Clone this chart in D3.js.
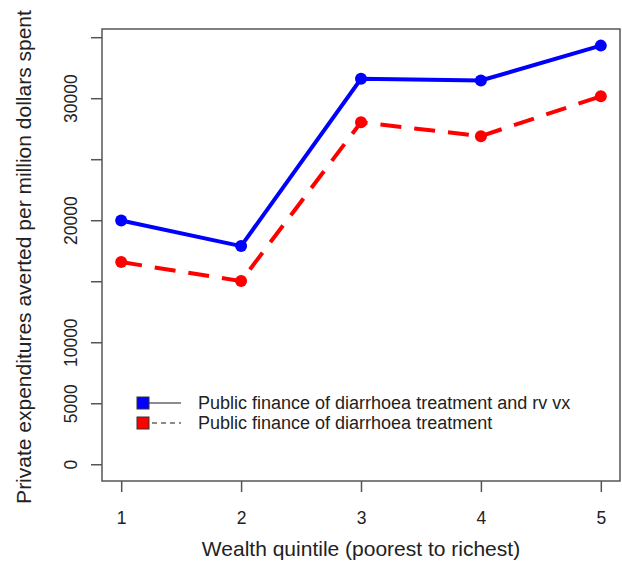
<!DOCTYPE html>
<html><head><meta charset="utf-8">
<script src="https://cdn.jsdelivr.net/npm/d3@7"></script>
<style>body{margin:0;background:#fff}svg{display:block;font-family:"Liberation Sans",Arial,sans-serif}</style>
</head><body><svg id="c" width="622" height="568"></svg>
<script>
const quintiles = [1, 2, 3, 4, 5];
const rvVx = [19980, 17880, 31590, 31450, 34310];
const treatOnly = [16570, 15010, 28030, 26890, 30160];
const yTicks = [0, 5000, 10000, 15000, 20000, 25000, 30000, 35000];
const yTickLabels = [0, 5000, 10000, 20000, 30000];
const xTicks = [1, 2, 3, 4, 5];
const seriesNames = ["Public finance of diarrhoea treatment and rv vx", "Public finance of diarrhoea treatment"];
const seriesColors = ["#0000ff", "#ff0000"];

const svg = d3.select("#c");
const L = 102, R = 620, T = 29, B = 481;
const x = d3.scaleLinear().domain([0.84, 5.16]).range([L, R]);
const yMax = 34300;
const y = d3.scaleLinear().domain([-0.04 * yMax, 1.04 * yMax]).range([B, T]);

// box
svg.append("rect").attr("x", L).attr("y", T).attr("width", R - L).attr("height", B - T)
  .attr("fill", "none").attr("stroke", "#555").attr("stroke-width", 1.5);

// y axis
const yAxis = svg.append("g").attr("transform", `translate(${L},0)`)
  .call(d3.axisLeft(y).tickValues(yTicks).tickSize(11).tickFormat(d => yTickLabels.includes(d) ? d : ""));
yAxis.select(".domain").remove();
yAxis.selectAll(".tick line").attr("stroke", "#555").attr("stroke-width", 1.5);
yAxis.selectAll(".tick text").attr("font-size", 17.5).attr("fill", "#222")
  .attr("text-anchor", "middle").attr("x", 0).attr("y", 0).attr("dy", 0)
  .attr("transform", "translate(-25,0) rotate(-90)");

// x axis
const xAxis = svg.append("g").attr("transform", `translate(0,${B})`)
  .call(d3.axisBottom(x).tickValues(xTicks).tickSize(11).tickFormat(d3.format("d")));
xAxis.select(".domain").remove();
xAxis.selectAll(".tick line").attr("stroke", "#555").attr("stroke-width", 1.5);
xAxis.selectAll(".tick text").attr("font-size", 17.5).attr("fill", "#222").attr("y", 43).attr("dy", 0);

// titles
svg.append("text").attr("x", (L + R) / 2).attr("y", 556).attr("text-anchor", "middle")
  .attr("font-size", 21).attr("fill", "#222").text("Wealth quintile (poorest to richest)");
svg.append("text").attr("transform", `translate(31,${(T + B) / 2 + 2}) rotate(-90)`).attr("text-anchor", "middle")
  .attr("font-size", 21).attr("fill", "#222").text("Private expenditures averted per million dollars spent");

// lines
const line = d3.line().x((d, i) => x(quintiles[i])).y(d => y(d));
const data = [rvVx, treatOnly];
const dashes = [null, "21,13"];
data.forEach((s, k) => {
  svg.append("path").datum(s).attr("d", line).attr("fill", "none")
    .attr("stroke", seriesColors[k]).attr("stroke-width", 4)
    .attr("stroke-dasharray", dashes[k]);
  svg.selectAll(null).data(s).enter().append("circle")
    .attr("cx", (d, i) => x(quintiles[i])).attr("cy", d => y(d)).attr("r", 6)
    .attr("fill", seriesColors[k]);
});

// legend
const lg = svg.append("g");
seriesNames.forEach((n, k) => {
  const yy = 403 + k * 20;
  lg.append("line").attr("x1", 143).attr("x2", 181).attr("y1", yy).attr("y2", yy)
    .attr("stroke", "#666").attr("stroke-width", 1.5).attr("stroke-dasharray", k ? "5,4" : null);
  lg.append("rect").attr("x", 137).attr("y", yy - 6).attr("width", 12).attr("height", 12)
    .attr("fill", seriesColors[k]).attr("stroke", "#333").attr("stroke-width", 1);
  lg.append("text").attr("x", 198).attr("y", yy).attr("dy", "0.35em").attr("font-size", 18)
    .attr("fill", "#222").text(n);
});
</script></body></html>
